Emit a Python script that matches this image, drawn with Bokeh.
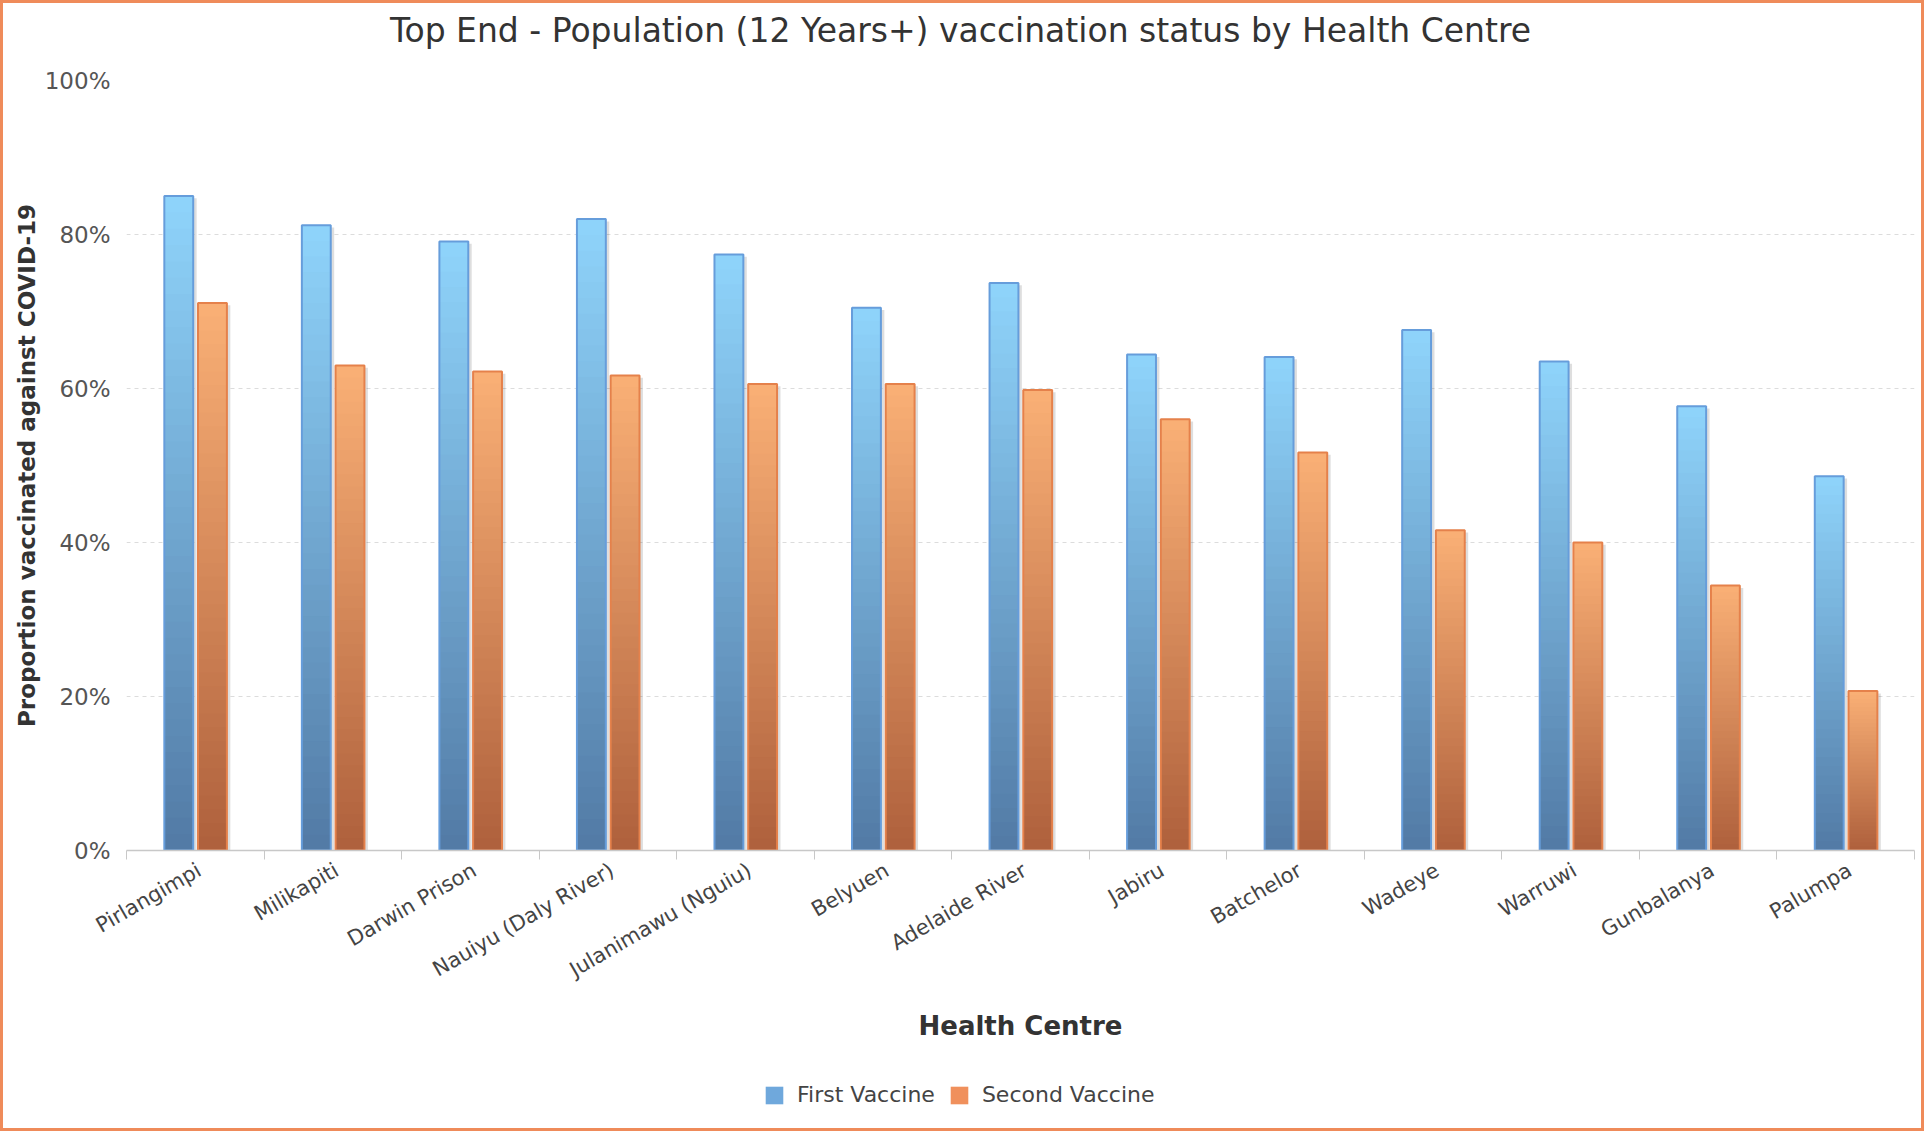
import math
from bokeh.plotting import figure
from bokeh.layouts import column
from bokeh.models import Range1d, FixedTicker, CustomJSTickFormatter, Legend, LegendItem, Label
from bokeh.embed import file_html
from bokeh.resources import INLINE

# ---- data ----
centres = ["Pirlangimpi", "Milikapiti", "Darwin Prison", "Nauiyu (Daly River)",
           "Julanimawu (Nguiu)", "Belyuen", "Adelaide River", "Jabiru", "Batchelor",
           "Wadeye", "Warruwi", "Gunbalanya", "Palumpa"]
first_vaccine = [85.0, 81.2, 79.1, 82.0, 77.4, 70.5, 73.7, 64.4, 64.1, 67.6, 63.5, 57.7, 48.6]
second_vaccine = [71.1, 63.0, 62.2, 61.7, 60.6, 60.6, 59.8, 56.0, 51.7, 41.6, 40.0, 34.4, 20.7]
y_ticks = [0, 20, 40, 60, 80, 100]
y_tick_labels = ["0%", "20%", "40%", "60%", "80%", "100%"]
series_names = ["First Vaccine", "Second Vaccine"]
chart_title = "Top End - Population (12 Years+) vaccination status by Health Centre"

# ---- style ----
BLUE_TOP, BLUE_BOT = (143, 212, 251), (82, 122, 165)
ORNG_TOP, ORNG_BOT = (250, 176, 118), (174, 96, 60)
BLUE_EDGE, ORNG_EDGE = "#669ddb", "#e5814b"
LEGEND_COLORS = ["#6fa8dc", "#f0905c"]
BAR_W = 0.21
OFFS = [-0.12, 0.125]
NSLICE = 40
W = 1918


def strip(height):
    f = figure(width=W, height=height, x_range=Range1d(0, 1), y_range=Range1d(0, 1),
               output_backend="svg", toolbar_location=None, title=None,
               x_axis_location=None, y_axis_location=None,
               min_border_left=0, min_border_right=0, min_border_top=0, min_border_bottom=0)
    f.outline_line_color = None
    f.grid.visible = False
    f.border_fill_color = "white"
    f.background_fill_color = "white"
    return f


# ---- title strip (its frame is aligned with the chart frame) ----
t = strip(50)
t.add_layout(Label(x=834, y=23, x_units="screen", y_units="screen", text=chart_title,
                   text_align="center", text_baseline="middle",
                   text_font="DejaVu Sans", text_font_size="33px", text_color="#333333"))

# ---- main chart ----
p = figure(width=W, height=1000, x_range=Range1d(0, len(centres)), y_range=Range1d(0, 100),
           output_backend="svg", toolbar_location=None, title=None,
           min_border_left=123, min_border_right=7, min_border_top=27, min_border_bottom=203)
p.outline_line_color = None
p.background_fill_color = "white"
p.border_fill_color = "white"


def hexc(rgb):
    return "#%02x%02x%02x" % tuple(int(round(c)) for c in rgb)


def gradient_bars(xs, vals, top_rgb, bot_rgb):
    xx, bb, tt, cc = [], [], [], []
    for x, v in zip(xs, vals):
        for k in range(NSLICE):
            frac = (k + 0.5) / NSLICE
            rgb = [b + (tp - b) * frac for tp, b in zip(top_rgb, bot_rgb)]
            xx.append(x)
            bb.append(v * k / NSLICE)
            tt.append(v * min(k + 1.6, NSLICE) / NSLICE)
            cc.append(hexc(rgb))
    return p.vbar(x=xx, bottom=bb, top=tt, width=BAR_W, fill_color=cc, line_color=None)


series = [(first_vaccine, BLUE_TOP, BLUE_BOT, BLUE_EDGE), (second_vaccine, ORNG_TOP, ORNG_BOT, ORNG_EDGE)]
for (vals, ctop, cbot, edge), off in zip(series, OFFS):
    xs = [i + 0.5 + off for i in range(len(centres))]
    # shadow
    p.vbar(x=[x + 0.025 for x in xs], top=[v - 0.3 for v in vals], width=BAR_W,
           fill_color="#000000", fill_alpha=0.13, line_color=None)
    gradient_bars(xs, vals, ctop, cbot)
    p.vbar(x=xs, top=vals, width=BAR_W, fill_color=None, line_color=edge, line_width=2)

# x axis
xa = p.xaxis[0]
xa.ticker = FixedTicker(ticks=[i + 0.53 for i in range(len(centres))],
                        minor_ticks=list(range(len(centres) + 1)))
xa.formatter = CustomJSTickFormatter(args=dict(names=centres),
                                     code="return names[Math.floor(tick)];")
xa.axis_line_color = "#c8c8c8"
xa.axis_line_width = 1.5
xa.major_tick_line_color = None
xa.minor_tick_line_color = "#c8c8c8"
xa.minor_tick_out = 9
xa.minor_tick_in = 0
xa.major_label_orientation = math.pi / 6
xa.major_label_text_font = "DejaVu Sans"
xa.major_label_text_font_size = "21px"
xa.major_label_text_color = "#444444"
xa.major_label_standoff = 9
xa.axis_label = "Health Centre"
xa.axis_label_text_font = "DejaVu Sans"
xa.axis_label_text_font_size = "26px"
xa.axis_label_text_font_style = "bold"
xa.axis_label_text_color = "#333333"
xa.axis_label_standoff = 16

# y axis
ya = p.yaxis[0]
ya.ticker = FixedTicker(ticks=y_ticks)
ya.major_label_overrides = dict(zip(y_ticks, y_tick_labels))
ya.axis_line_color = None
ya.major_tick_line_color = None
ya.minor_tick_line_color = None
ya.major_label_text_font = "DejaVu Sans"
ya.major_label_text_font_size = "23px"
ya.major_label_text_color = "#555555"
ya.major_label_standoff = 10
ya.axis_label = "Proportion vaccinated against COVID-19"
ya.axis_label_text_font = "DejaVu Sans"
ya.axis_label_text_font_size = "23px"
ya.axis_label_text_font_style = "bold"
ya.axis_label_text_color = "#333333"
ya.axis_label_standoff = 2

p.xgrid.grid_line_color = None
p.ygrid.ticker = FixedTicker(ticks=y_ticks)
p.ygrid.grid_line_color = "#dcdcdc"
p.ygrid.grid_line_dash = "4 4"

# ---- legend strip ----
q = strip(75)
items = []
for vals, color, name in zip([first_vaccine, second_vaccine], LEGEND_COLORS, series_names):
    r = q.vbar(x=list(range(len(centres))), top=vals, width=0.5, fill_color=color,
               line_color=None, visible=False)
    items.append(LegendItem(label=name, renderers=[r]))
legend = Legend(items=items, orientation="horizontal", location=(637, 21),
                border_line_color=None, background_fill_alpha=0,
                inactive_fill_alpha=0,
                label_text_font="DejaVu Sans", label_text_font_size="22px",
                label_text_color="#444444", glyph_width=22, glyph_height=22,
                spacing=13, label_standoff=12, padding=6, margin=0)
q.add_layout(legend, "center")

layout = column(t, p, q, spacing=0)
layout.styles = {"border": "3px solid #ef8b5a", "background-color": "white"}

open("out.html", "w").write(file_html(layout, INLINE))
